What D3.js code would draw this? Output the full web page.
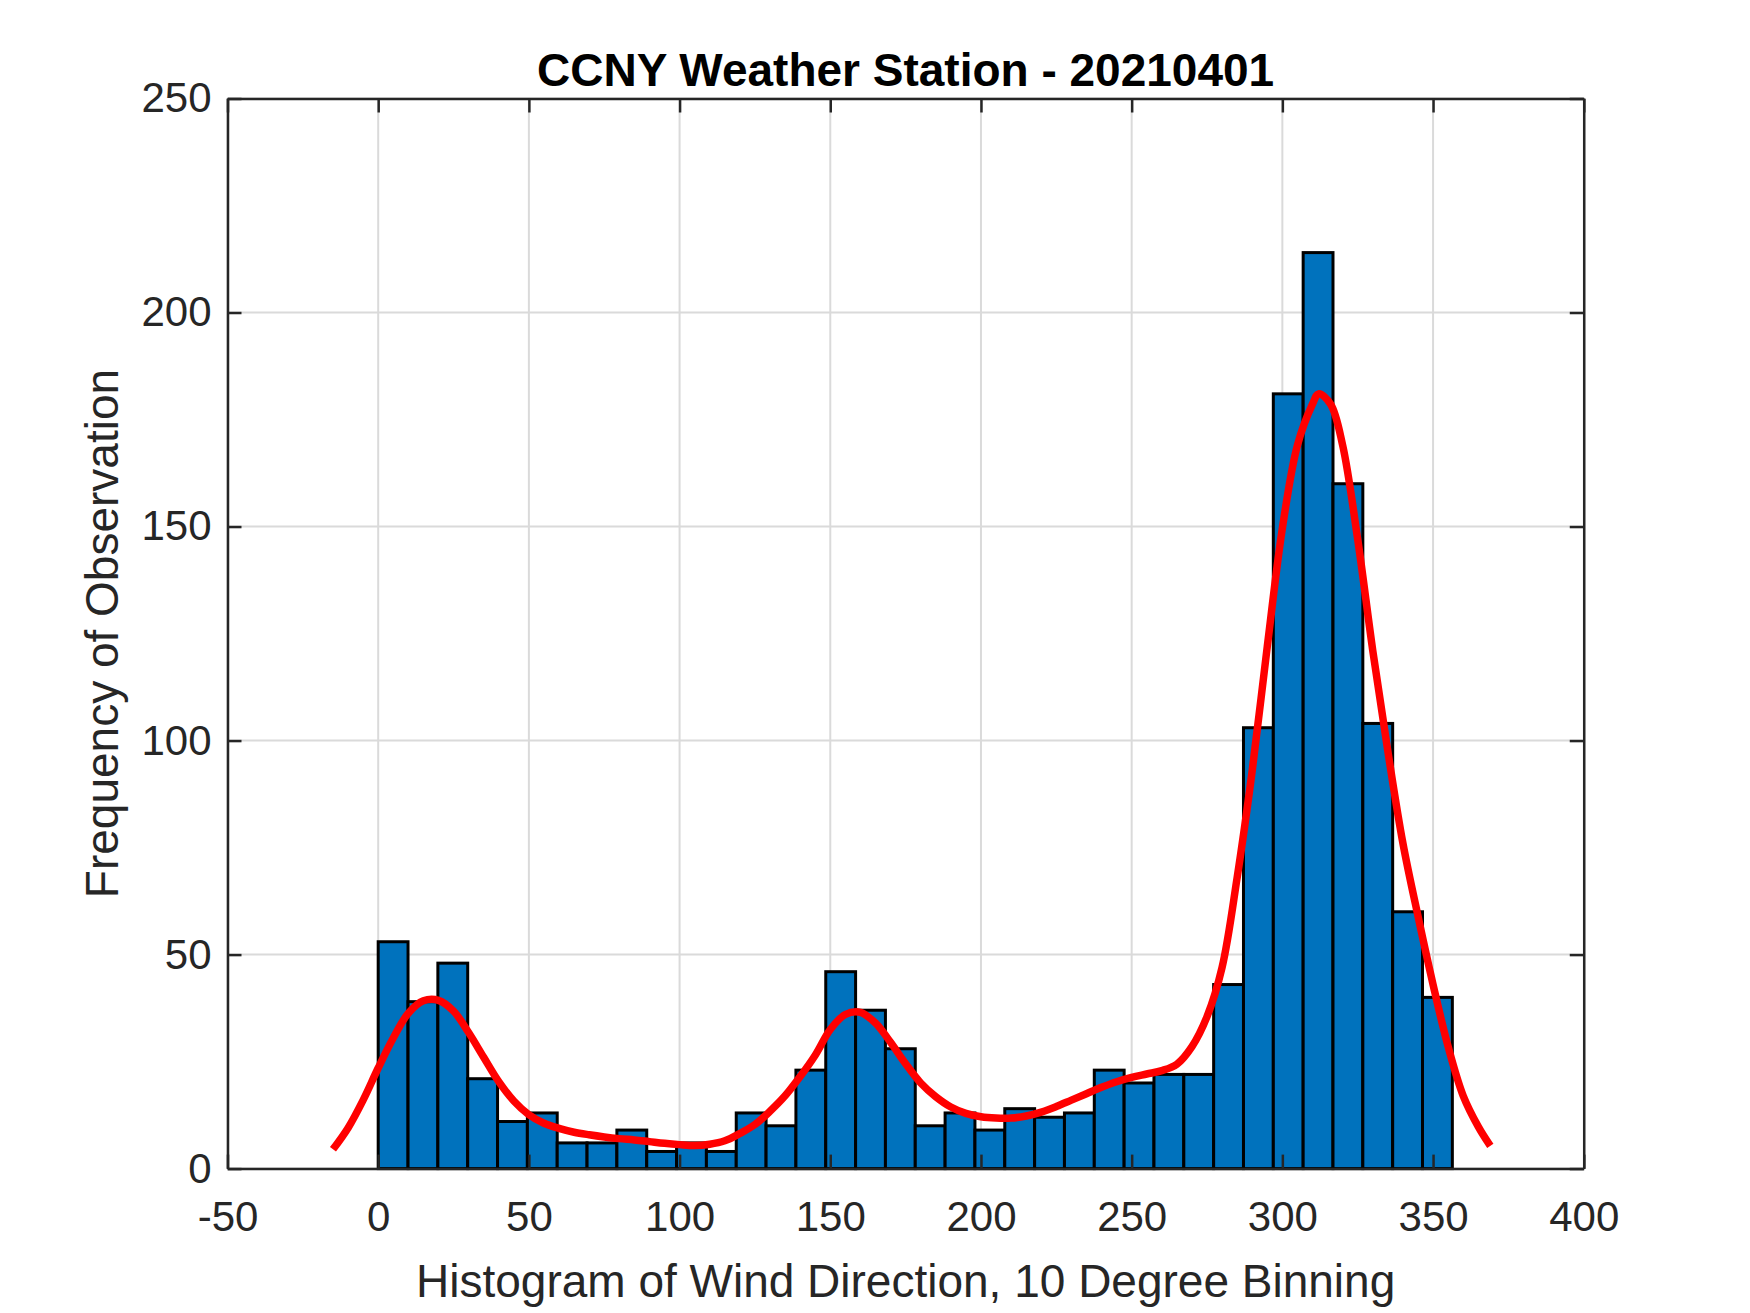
<!DOCTYPE html>
<html>
<head>
<meta charset="utf-8">
<style>
  body { margin: 0; background: #fff; }
  text { font-family: "Liberation Sans", Arial, Helvetica, sans-serif; }
</style>
</head>
<body>
<div id="chart"></div>
<script src="https://cdn.jsdelivr.net/npm/d3@7"></script>
<script>
// counts per wind-direction bin, first bin starting at 0
var counts = [53, 39, 48, 21, 11, 13, 6, 6, 9, 4, 6, 4,
              13, 10, 23, 46, 37, 28, 10, 13, 9, 14, 12, 13,
              23, 20, 22, 22, 43, 103, 181, 214, 160, 104, 60, 40];
var binWidth = 9.9;

// smoothed density (scaled to counts)
var fitDir = [-15, -10, -5, 0, 5, 10, 15, 20, 25, 30, 35, 40, 45, 50, 55, 60, 65, 70, 75, 80,
              85, 90, 95, 100, 105, 110, 115, 120, 125, 130, 135, 140, 145, 150, 155, 160, 165,
              170, 175, 180, 185, 190, 195, 200, 205, 210, 215, 220, 225, 230, 235, 240, 245,
              250, 255, 260, 265, 270, 275, 280, 285, 290, 295, 300, 305, 310, 312, 316, 320,
              325, 330, 335, 340, 345, 350, 355, 360, 365, 369];
var fitFreq = [4.5, 9.5, 16, 23.5, 30.5, 36.3, 39.2, 39.3, 36.8, 31.8, 26, 20.3, 15.8, 12.6,
               10.6, 9.4, 8.5, 7.9, 7.4, 7.0, 6.7, 6.3, 5.9, 5.6, 5.4, 5.7, 6.5, 8.2, 10.3, 13.4,
               17, 21.5, 26.5, 32.5, 36, 36.5, 34, 29.5, 24.5, 20, 16.8, 14.4, 12.9, 12.1, 11.8,
               11.8, 12.3, 13.2, 14.5, 16, 17.5, 19, 20.3, 21.3, 22.1, 22.9, 24.4, 28.5, 35.5,
               47, 68, 93, 122, 149.6, 169, 178.6, 181, 178.6, 169, 147, 121, 97.5, 76, 59,
               43, 28.5, 17, 9.8, 5.3];

var xTicks = [-50, 0, 50, 100, 150, 200, 250, 300, 350, 400];
var yTicks = [0, 50, 100, 150, 200, 250];

var width = 1750, height = 1313;
var plotLeft = 227.5, plotRight = 1583.75, plotTop = 98.5, plotBottom = 1168.6;
var axisColor = '#262626';

var svg = d3.select('#chart').append('svg')
    .attr('width', width)
    .attr('height', height);

var x = d3.scaleLinear().domain([-50, 400]).range([plotLeft, plotRight]);
var y = d3.scaleLinear().domain([0, 250]).range([plotBottom, plotTop]);

// grid
var grid = svg.append('g').attr('stroke', '#dadada').attr('stroke-width', 2);
grid.selectAll('.gx').data(xTicks).enter().append('line')
    .attr('x1', function(d){ return x(d); }).attr('x2', function(d){ return x(d); })
    .attr('y1', plotTop).attr('y2', plotBottom);
grid.selectAll('.gy').data(yTicks).enter().append('line')
    .attr('y1', function(d){ return y(d); }).attr('y2', function(d){ return y(d); })
    .attr('x1', plotLeft).attr('x2', plotRight);

// bars
svg.append('g').selectAll('rect')
    .data(counts)
    .enter().append('rect')
    .attr('x', function(d, i){ return x(i * binWidth); })
    .attr('width', function(d, i){ return x((i + 1) * binWidth) - x(i * binWidth); })
    .attr('y', function(d){ return y(d); })
    .attr('height', function(d){ return y(0) - y(d); })
    .attr('fill', '#0072BD')
    .attr('stroke', '#000')
    .attr('stroke-width', 3);

// fitted curve
var line = d3.line()
    .x(function(d, i){ return x(fitDir[i]); })
    .y(function(d){ return y(d); })
    .curve(d3.curveCatmullRom);

svg.append('path')
    .datum(fitFreq)
    .attr('d', line)
    .attr('fill', 'none')
    .attr('stroke', '#ff0000')
    .attr('stroke-width', 7.5)
    .attr('stroke-linejoin', 'round');

// axes, ticks pointing inwards on all four sides
function styleAxis(g) {
    g.attr('font-family', null).attr('font-size', null);
    g.selectAll('path').attr('stroke', axisColor).attr('stroke-width', 2.5);
    g.selectAll('line').attr('stroke', axisColor).attr('stroke-width', 2.5);
    g.selectAll('text').attr('fill', axisColor).style('font-size', '42px');
}
var fmt = function(d){ return String(d); };

svg.append('g').attr('transform', 'translate(0,' + plotBottom + ')')
    .call(d3.axisBottom(x).tickValues(xTicks).tickFormat(fmt).tickSizeInner(-14).tickSizeOuter(0).tickPadding(33))
    .call(styleAxis);
svg.append('g').attr('transform', 'translate(0,' + plotTop + ')')
    .call(d3.axisTop(x).tickValues(xTicks).tickFormat('').tickSizeInner(-14).tickSizeOuter(0))
    .call(styleAxis);
svg.append('g').attr('transform', 'translate(' + plotLeft + ',0)')
    .call(d3.axisLeft(y).tickValues(yTicks).tickFormat(fmt).tickSizeInner(-14).tickSizeOuter(0).tickPadding(16))
    .call(styleAxis);
svg.append('g').attr('transform', 'translate(' + plotRight + ',0)')
    .call(d3.axisRight(y).tickValues(yTicks).tickFormat('').tickSizeInner(-14).tickSizeOuter(0))
    .call(styleAxis);

// titles
svg.append('text')
    .attr('x', (plotLeft + plotRight) / 2).attr('y', 86)
    .attr('text-anchor', 'middle')
    .style('font-size', '46px').style('font-weight', 'bold')
    .attr('fill', '#000')
    .text('CCNY Weather Station - 20210401');

svg.append('text')
    .attr('x', (plotLeft + plotRight) / 2).attr('y', 1297)
    .attr('text-anchor', 'middle')
    .style('font-size', '46px')
    .attr('fill', axisColor)
    .text('Histogram of Wind Direction, 10 Degree Binning');

svg.append('text')
    .attr('transform', 'translate(118,' + ((plotTop + plotBottom) / 2) + ') rotate(-90)')
    .attr('text-anchor', 'middle')
    .style('font-size', '46px')
    .attr('fill', axisColor)
    .text('Frequency of Observation');
</script>
</body>
</html>
